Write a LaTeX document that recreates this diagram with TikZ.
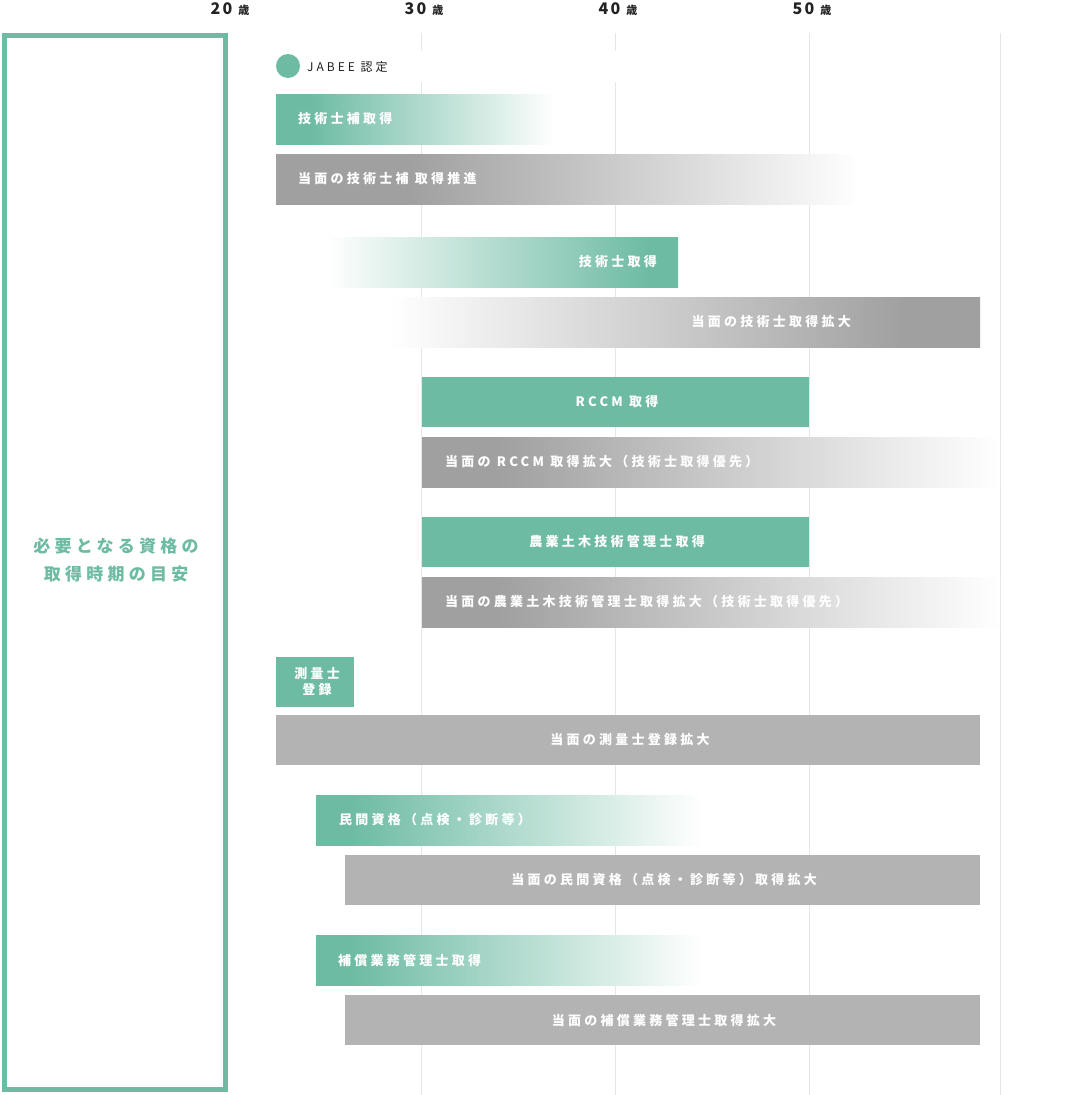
\documentclass[tikz,border=0pt]{standalone}
\usepackage{fontspec}
\setmainfont{Noto Sans CJK JP}
\newfontfamily\bartext[LetterSpace=25]{Noto Sans CJK JP}
\newfontfamily\agetext[LetterSpace=15]{Noto Sans CJK JP}
\definecolor{grn}{HTML}{6DBBA3}
\definecolor{gdark}{HTML}{A0A0A0}
\definecolor{gsolid}{HTML}{B3B3B3}
\definecolor{gridc}{HTML}{E6E6E6}
\definecolor{ink}{HTML}{222222}
% horizontal shadings: the path covers 25bp..75bp
\pgfdeclarehorizontalshading{shgA}{100bp}{color(0bp)=(grn); color(31bp)=(grn); color(75bp)=(white); color(100bp)=(white)}
\pgfdeclarehorizontalshading{shdB}{100bp}{color(0bp)=(gdark); color(36.5bp)=(gdark); color(75bp)=(white); color(100bp)=(white)}
\pgfdeclarehorizontalshading{shgC}{100bp}{color(0bp)=(white); color(25bp)=(white); color(71bp)=(grn); color(100bp)=(grn)}
\pgfdeclarehorizontalshading{shdD}{100bp}{color(0bp)=(white); color(25bp)=(white); color(68.6bp)=(gdark); color(100bp)=(gdark)}
\pgfdeclarehorizontalshading{shdE}{100bp}{color(0bp)=(gdark); color(31.6bp)=(gdark); color(75bp)=(white); color(100bp)=(white)}
\pgfdeclarehorizontalshading{shgF}{100bp}{color(0bp)=(grn); color(29.4bp)=(grn); color(75bp)=(white); color(100bp)=(white)}
\tikzset{
  bt/.style={text=white, inner sep=0pt, font=\bartext\bfseries\fontsize{13}{16}\selectfont},
  agelbl/.style={text=ink, inner sep=0pt, font=\agetext\bfseries\fontsize{16}{18}\selectfont},
  gridline/.style={draw=gridc, line width=1pt},
}
\newcommand{\sai}{{\fontsize{11}{12}\selectfont 歳}}
\begin{document}
\begin{tikzpicture}[x=1pt,y=-1pt]
\useasboundingbox (0,0) rectangle (1066,1095);
% grid
\foreach \gx in {421,615,809,1000} \draw[gridline] (\gx,33) -- (\gx,1095);
\fill[white] (260,51) rectangle (760,82);
% age labels
\node[agelbl] (a20) at (230,9) {20 \sai};
\node[agelbl] (a30) at (424,9) {30 \sai};
\node[agelbl] (a40) at (618,9) {40 \sai};
\node[agelbl] (a50) at (812,9) {50 \sai};
% left frame
\draw[grn, line width=5pt] (4.5,35.5) rectangle (225,1089.5);
\node[text=grn, inner sep=0pt, align=center, font=\bartext\bfseries\fontsize{17}{28}\selectfont] (lbl) at (116,560) {必要となる資格の\\取得時期の目安};
% JABEE
\fill[grn] (288,66) circle (12);
\node[anchor=west, text=ink, inner sep=0pt, font=\bartext\fontsize{12}{14}\selectfont] (jabee) at (307,67) {JABEE 認定};
% bar 1
\shade[shading=shgA] (276,94) rectangle (555,144);
\node[bt, anchor=west] (b1) at (298,119) {技術士補取得};
% bar 2
\shade[shading=shdB] (276,154) rectangle (860,204);
\node[bt, anchor=west] (b2) at (298,179) {当面の技術士補 取得推進};
% bar 3
\shade[shading=shgC] (327,237) rectangle (678,287);
\node[bt, anchor=east] (b3) at (657,262) {技術士取得};
% bar 4
\shade[shading=shdD] (390,297) rectangle (980,347);
\node[bt, anchor=east] (b4) at (851,322) {当面の技術士取得拡大};
% bar 5
\fill[grn] (422,377) rectangle (809,427);
\node[bt] (b5) at (617,402) {RCCM 取得};
% bar 6
\shade[shading=shdE] (422,437) rectangle (1000,487);
\node[bt, anchor=west] (b6) at (445,462) {当面の RCCM 取得拡大（技術士取得優先）};
% bar 7
\fill[grn] (422,517) rectangle (809,567);
\node[bt] (b7) at (617,542) {農業土木技術管理士取得};
% bar 8
\shade[shading=shdE] (422,577) rectangle (1000,627);
\node[bt, anchor=west] (b8) at (445,602) {当面の農業土木技術管理士取得拡大（技術士取得優先）};
% bar 9
\fill[grn] (276,657) rectangle (354,707);
\node[bt, align=center] (b9) at (317,682) {測量士\\登録};
% bar 10
\fill[gsolid] (276,715) rectangle (980,765);
\node[bt] (b10) at (630,740) {当面の測量士登録拡大};
% bar 11
\shade[shading=shgF] (316,795) rectangle (702,845);
\node[bt, anchor=west] (b11) at (339,820) {民間資格（点検・診断等）};
% bar 12
\fill[gsolid] (345,855) rectangle (980,905);
\node[bt] (b12) at (664,880) {当面の民間資格（点検・診断等）取得拡大};
% bar 13
\shade[shading=shgF] (316,935) rectangle (702,985);
\node[bt, anchor=west] (b13) at (338,960) {補償業務管理士取得};
% bar 14
\fill[gsolid] (345,995) rectangle (980,1045);
\node[bt] (b14) at (664,1020) {当面の補償業務管理士取得拡大};
\end{tikzpicture}
\end{document}
